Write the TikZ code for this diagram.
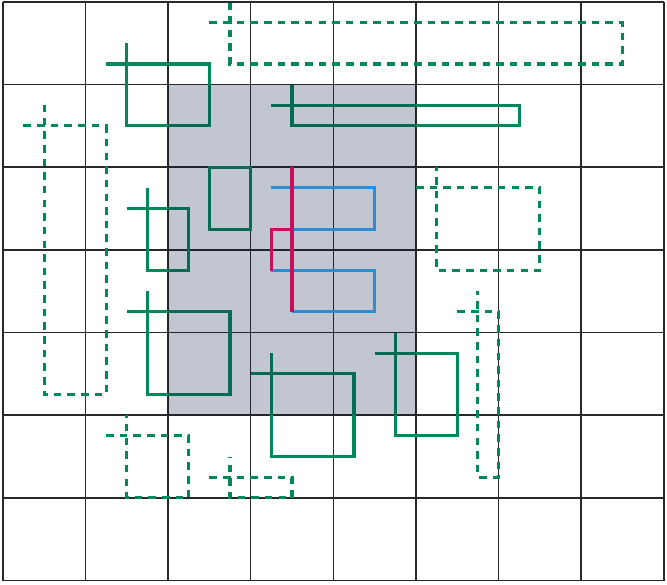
\documentclass[tikz,border=0pt]{standalone}
\usetikzlibrary{calc}
\definecolor{grn}{RGB}{0,136,88}
\definecolor{blu}{RGB}{43,140,216}
\definecolor{mag}{RGB}{200,16,90}
\definecolor{navy}{RGB}{12,28,68}
\definecolor{gridc}{RGB}{40,40,40}
\tikzset{
  gridline/.style={draw=gridc, line width=0.55pt},
  solidg/.style={draw=grn, line width=1.05pt},
  dashg/.style={draw=grn, line width=1.05pt, dash pattern=on 2.6pt off 2.1pt},
  bluel/.style={draw=blu, line width=1.05pt},
  magl/.style={draw=mag, line width=1.05pt},
  shade/.style={fill=navy, fill opacity=0.25}
}
\begin{document}
\begin{tikzpicture}[x=1cm, y=-1cm]
\useasboundingbox (-0.033,-0.024) rectangle (8.037,7.042);
% grid
\draw[gridline] (0,0) grid (8,7);
% solid green rectangles with tails
\draw[solidg] (1.25,0.75) -- (2.5,0.75) -- (2.5,1.5) -- (1.5,1.5) -- (1.5,0.5);
\draw[solidg] (3.25,1.25) -- (6.25,1.25) -- (6.25,1.5) -- (3.5,1.5) -- (3.5,1.0);
\draw[solidg] (2.5,2.0) rectangle (3.0,2.75);
\draw[solidg] (1.5,2.5) -- (2.25,2.5) -- (2.25,3.25) -- (1.75,3.25) -- (1.75,2.25);
\draw[solidg] (1.5,3.75) -- (2.75,3.75) -- (2.75,4.75) -- (1.75,4.75) -- (1.75,3.5);
\draw[solidg] (3.0,4.5) -- (4.25,4.5) -- (4.25,5.5) -- (3.25,5.5) -- (3.25,4.25);
\draw[solidg] (4.5,4.25) -- (5.5,4.25) -- (5.5,5.25) -- (4.75,5.25) -- (4.75,4.0);
% dashed green rectangles with tails
\draw[dashg] (2.5,0.25) -- (7.5,0.25) -- (7.5,0.75) -- (2.75,0.75) -- (2.75,0.0);
\draw[dashg] (0.25,1.5) -- (1.25,1.5) -- (1.25,4.75) -- (0.5,4.75) -- (0.5,1.25);
\draw[dashg] (5.0,2.25) -- (6.5,2.25) -- (6.5,3.25) -- (5.25,3.25) -- (5.25,2.0);
\draw[dashg] (5.5,3.75) -- (6.0,3.75) -- (6.0,5.75) -- (5.75,5.75) -- (5.75,3.5);
\draw[dashg] (1.25,5.25) -- (2.25,5.25) -- (2.25,6.0) -- (1.5,6.0) -- (1.5,5.0);
\draw[dashg] (2.5,5.75) -- (3.5,5.75) -- (3.5,6.0) -- (2.75,6.0) -- (2.75,5.5);
% shaded region
\fill[shade] (2,1) rectangle (5,5);
% blue shapes
\draw[bluel] (3.25,2.25) -- (4.5,2.25) -- (4.5,2.75) -- (3.5,2.75);
\draw[bluel] (3.25,3.25) -- (4.5,3.25) -- (4.5,3.75) -- (3.5,3.75);
% magenta
\draw[magl] (3.5,2.0) -- (3.5,3.75);
\draw[magl] (3.5,2.75) -- (3.25,2.75) -- (3.25,3.25);
\end{tikzpicture}
\end{document}
